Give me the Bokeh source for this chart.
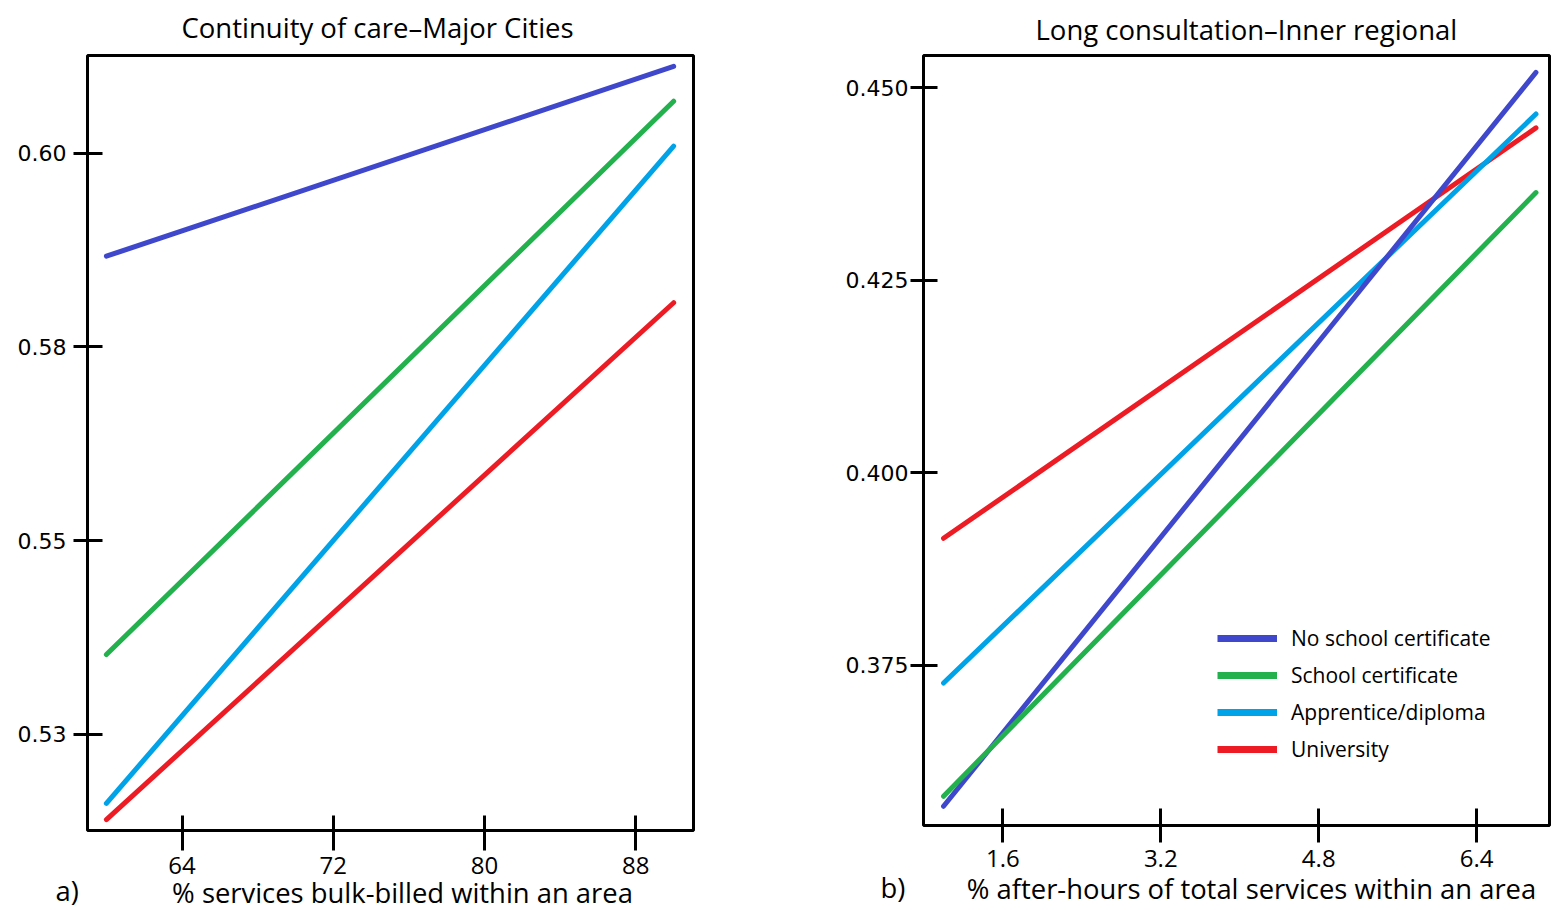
from bokeh.plotting import figure
from bokeh.layouts import row
from bokeh.models import Range1d, FixedTicker, Legend, LegendItem
from bokeh.core.properties import value
from bokeh.embed import file_html
from bokeh.resources import INLINE

# ---------------- data ----------------
series_names = ["No school certificate", "School certificate", "Apprentice/diploma", "University"]
series_colors = ["#3F48CC", "#22B14C", "#00A2E8", "#ED1C24"]

# a) Continuity of care - Major Cities
left_x = [60, 90]
left_no_school = [0.5867, 0.6112]
left_school_cert = [0.5353, 0.6067]
left_apprentice = [0.5161, 0.6009]
left_university = [0.5140, 0.5807]
left_x_ticks = [64, 72, 80, 88]
left_y_ticks = [0.525, 0.550, 0.575, 0.600]
left_y_tick_labels = ["0.53", "0.55", "0.58", "0.60"]

# b) Long consultation - Inner regional
right_x = [1.0, 7.0]
right_no_school = [0.3567, 0.4520]
right_school_cert = [0.3580, 0.4364]
right_apprentice = [0.3727, 0.4466]
right_university = [0.3915, 0.4448]
right_x_ticks = [1.6, 3.2, 4.8, 6.4]
right_y_ticks = [0.375, 0.400, 0.425, 0.450]
right_y_tick_labels = ["0.375", "0.400", "0.425", "0.450"]

TXT = "Open Sans"
NUM = "DejaVu Sans"
NAN = float("nan")
H = 910


def style(p, xticks, yticks, ylabels, x_in, x_out, x_standoff, y_in, y_out, y_standoff,
          title_offset, title_standoff):
    if "frame_align" in p.properties():
        p.frame_align = False
    p.outline_line_color = "black"
    p.outline_line_width = 3
    p.outline_line_alpha = 1
    p.xgrid.visible = False
    p.ygrid.visible = False
    p.background_fill_color = "white"
    p.border_fill_color = "white"
    p.xaxis.ticker = FixedTicker(ticks=xticks)
    p.yaxis.ticker = FixedTicker(ticks=yticks)
    p.yaxis.major_label_overrides = {t: l for t, l in zip(yticks, ylabels)}
    for ax in (p.xaxis, p.yaxis):
        ax.axis_line_color = None
        ax.minor_tick_line_color = None
        ax.major_tick_line_color = "black"
        ax.major_tick_line_width = 3
        ax.major_label_text_color = "black"
    p.xaxis.major_tick_in = x_in
    p.xaxis.major_tick_out = x_out
    p.xaxis.major_label_standoff = x_standoff
    p.xaxis.major_label_text_font = TXT
    p.xaxis.major_label_text_font_size = "24px"
    p.yaxis.major_tick_in = y_in
    p.yaxis.major_tick_out = y_out
    p.yaxis.major_label_standoff = y_standoff
    p.yaxis.major_label_text_font = NUM
    p.yaxis.major_label_text_font_size = "22px"
    p.title.text_font = TXT
    p.title.text_font_size = "27.5px"
    p.title.text_font_style = "normal"
    p.title.text_color = "black"
    p.title.align = "left"
    p.title.vertical_align = "top"
    p.title.offset = title_offset
    p.title.standoff = title_standoff


def below_text(p, text, dx, dy, align):
    """Text below the frame, anchored at the frame's bottom-left corner, offset in pixels."""
    p.text(x=[p.x_range.start], y=[p.y_range.start], text=[text], x_offset=dx, y_offset=dy,
           text_align=align, text_baseline="alphabetic", text_font=value(TXT),
           text_font_size="27.4px", text_color="black", level="overlay")


# ---------------- left panel ----------------
p1 = figure(width=840, height=H, output_backend="svg", toolbar_location=None,
            x_range=Range1d(59.0, 91.05), y_range=Range1d(0.5126, 0.6126),
            title="Continuity of care\u2013Major Cities",
            min_border_left=87, min_border_right=147, min_border_top=55, min_border_bottom=H - 830)
style(p1, left_x_ticks, left_y_ticks, left_y_tick_labels, 15, 20, 6, 15, 14, 7, 94, 15)

left_vals = [left_no_school, left_school_cert, left_apprentice, left_university]
for vals, col in zip(left_vals, series_colors):
    p1.line(left_x, vals, line_color=col, line_width=5, line_cap="round")

below_text(p1, "% services bulk-billed within an area", 315, 62, "center")
below_text(p1, "a)", -32, 60, "left")

# ---------------- right panel ----------------
p2 = figure(width=711, height=H, output_backend="svg", toolbar_location=None,
            x_range=Range1d(0.797, 7.137), y_range=Range1d(0.3542, 0.4542),
            title="Long consultation\u2013Inner regional",
            min_border_left=83, min_border_right=2, min_border_top=55, min_border_bottom=H - 825)
style(p2, right_x_ticks, right_y_ticks, right_y_tick_labels, 17, 17, 7, 14, 13, 2, 112, 11)

right_vals = [right_no_school, right_school_cert, right_apprentice, right_university]
draw_order = [3, 2, 0, 1]
for i in draw_order:
    p2.line(right_x, right_vals[i], line_color=series_colors[i], line_width=5, line_cap="round")

items = []
for name, col in zip(series_names, series_colors):
    r = p2.line(x=[NAN], y=[NAN], line_color=col, line_width=7)
    items.append(LegendItem(label=name, renderers=[r]))

legend = Legend(items=items, location=(294, 62), orientation="vertical",
                glyph_width=60, glyph_height=20, label_height=20, spacing=9,
                label_standoff=14, padding=0, margin=0,
                label_text_font=TXT, label_text_font_size="21px", label_text_color="black",
                border_line_color=None, background_fill_alpha=0)
p2.add_layout(legend)

below_text(p2, "% after-hours of total services within an area", 328, 63, "center")
below_text(p2, "b)", -43, 62, "left")

layout = row(p1, p2, spacing=0)
open("out.html", "w").write(file_html(layout, INLINE))
